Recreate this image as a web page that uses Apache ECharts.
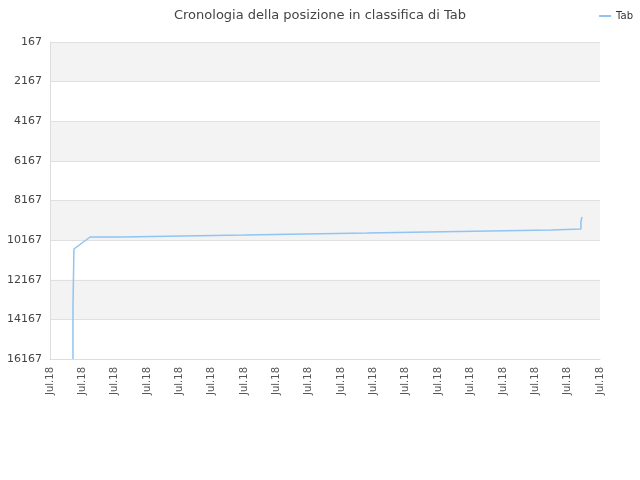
<!DOCTYPE html><html><head><meta charset="utf-8"><script src="https://cdn.jsdelivr.net/npm/echarts@6/dist/echarts.min.js"></script></head><body style="margin:0"><div id="c" style="width:640px;height:480px"></div><script>
const xTickLabels = Array(18).fill('Jul.18');
const xs = [0.71,0.71,0.74,0.74,1.24,2.19,2.19,4.11,4.11,6.0,6.0,7.88,7.88,9.8,9.8,11.68,11.68,13.6,13.6,15.49,15.49,16.41,16.41,16.44];
const ys = [16167,13542,13542,10615,10010,10010,9958,9958,9908,9908,9857,9857,9807,9807,9756,9756,9706,9706,9655,9655,9605,9605,9252,9000];
const c = echarts.init(document.getElementById('c'));
c.setOption({
  textStyle:{fontFamily:'DejaVu Sans'},
  title:{text:'Cronologia della posizione in classifica di Tab',left:'center',top:4,textStyle:{fontSize:13,fontWeight:'normal',color:'#444',fontFamily:'DejaVu Sans'}},
  legend:{right:2,top:6,itemWidth:12,itemHeight:2,icon:'rect',textStyle:{fontSize:10,color:'#333',fontFamily:'DejaVu Sans'},data:['Tab']},
  grid:{left:50,right:40,top:42,bottom:121},
  xAxis:{type:'value',min:0,max:17,interval:1,axisLine:{lineStyle:{color:'#ddd'}},axisTick:{show:false},splitLine:{show:false},
    axisLabel:{rotate:90,color:'#555',fontSize:10,fontFamily:'DejaVu Sans',formatter:(v)=>xTickLabels[Math.round(v)]}},
  yAxis:{type:'value',inverse:true,min:167,max:16167,interval:2000,axisLine:{show:true,lineStyle:{color:'#ddd'}},axisTick:{show:false},
    axisLabel:{color:'#444',fontSize:11,fontFamily:'DejaVu Sans',formatter:(v)=>String(v)},splitLine:{lineStyle:{color:'#e0e0e0'}},splitArea:{show:true,areaStyle:{color:['#f3f3f3','#ffffff']}}},
  series:[{name:'Tab',type:'line',symbol:'none',lineStyle:{color:'#90c4f4',width:1.5},itemStyle:{color:'#90c4f4'},data:xs.map((x,i)=>[x,ys[i]])}]
});
</script></body></html>
